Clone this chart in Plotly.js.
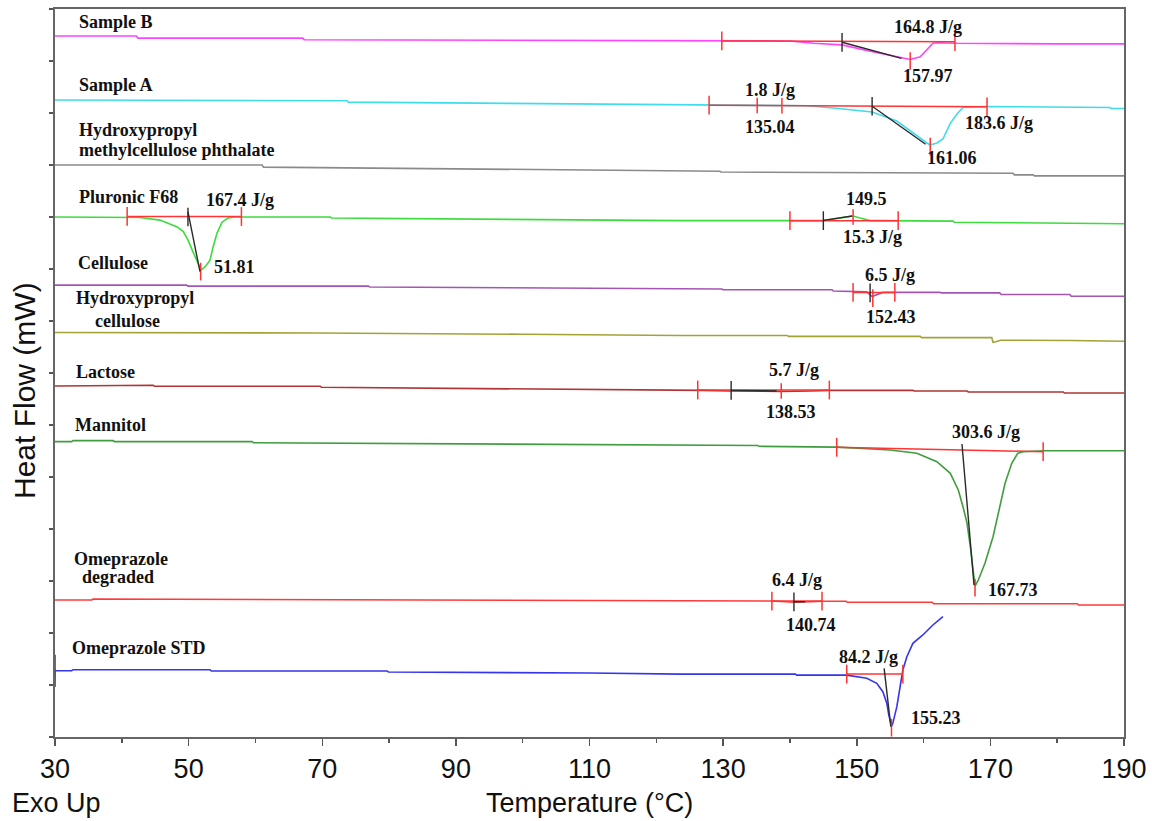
<!DOCTYPE html>
<html>
<head>
<meta charset="utf-8">
<script src="https://cdn.plot.ly/plotly-3.0.1.min.js"></script>
<style>html,body{margin:0;padding:0;background:#fff;}#chart{width:1152px;height:821px;}</style>
</head>
<body>
<div id="chart"></div>
<script>
// ---- DSC curves: temperature (°C) and stacked heat flow (arbitrary offset units) ----
const tSampleB = [30, 42.2, 42.4, 67.1, 67.3, 95, 123, 140, 143.5, 147.8, 152, 156.9, 158.0, 159.5, 160.5, 161.4, 162.2, 165, 180, 190];
const hSampleB = [13.48, 13.48, 13.44, 13.44, 13.41, 13.40, 13.39, 13.385, 13.34, 13.31, 13.19, 13.05, 13.03, 13.08, 13.21, 13.34, 13.35, 13.34, 13.33, 13.33];

const tSampleA = [30, 49, 49.2, 73.7, 73.9, 100, 123.5, 142.6, 146.5, 152.3, 156, 158.4, 160.5, 161, 162, 162.9, 164, 165, 165.9, 169.5, 187.9, 188.1, 190];
const hSampleA = [12.25, 12.25, 12.237, 12.237, 12.21, 12.18, 12.154, 12.14, 12.096, 12.019, 11.846, 11.615, 11.423, 11.385, 11.423, 11.5, 11.8, 11.98, 12.106, 12.125, 12.106, 12.087, 12.087];

const tHPMCP = [30, 61, 61.2, 100, 123.5, 129.5, 129.7, 145.5, 145.7, 173.4, 173.6, 176.4, 176.6, 190];
const hHPMCP = [11.0, 11.0, 10.96, 10.92, 10.885, 10.88, 10.865, 10.86, 10.846, 10.84, 10.81, 10.81, 10.79, 10.79];

const tF68 = [30, 40.8, 42.7, 45.7, 48.3, 49.2, 49.9, 50.65, 51.4, 51.85, 52.45, 53.2, 53.65, 54.25, 55.0, 55.9, 57, 71.2, 71.4, 110, 123.5, 145, 148.5, 149.45, 150.5, 152.0, 153.2, 164.4, 164.6, 183.9, 184.1, 190];
const hF68 = [10.0, 10.0, 9.99, 9.94, 9.81, 9.72, 9.56, 9.33, 9.11, 8.98, 9.04, 9.17, 9.42, 9.69, 9.90, 9.98, 10.0, 10.0, 9.98, 9.95, 9.93, 9.93, 9.99, 10.02, 9.98, 9.93, 9.93, 9.92, 9.90, 9.88, 9.87, 9.87];

const tCellulose = [30, 49.7, 49.9, 76.9, 77.1, 110, 123.5, 129.8, 130, 146.3, 146.5, 151.5, 152.3, 153.0, 153.9, 162.5, 162.7, 171.4, 171.6, 181.9, 182.1, 190];
const hCellulose = [8.69, 8.69, 8.67, 8.67, 8.654, 8.63, 8.615, 8.615, 8.60, 8.60, 8.577, 8.56, 8.47, 8.51, 8.55, 8.55, 8.54, 8.54, 8.51, 8.51, 8.475, 8.475];

const tHPC = [30, 68.9, 69.1, 100, 123.5, 139.6, 139.8, 159.5, 159.7, 170.2, 170.4, 170.8, 171.5, 182, 188.7, 188.9, 190];
const hHPC = [7.78, 7.78, 7.77, 7.745, 7.72, 7.72, 7.705, 7.705, 7.68, 7.68, 7.59, 7.60, 7.63, 7.625, 7.62, 7.61, 7.61];

const tLactose = [30, 34.5, 34.7, 44.7, 44.9, 69.7, 69.9, 100, 123.5, 127, 131, 138.7, 143, 146, 158.4, 158.6, 166.5, 166.7, 180.9, 181.1, 190];
const hLactose = [6.75, 6.75, 6.763, 6.763, 6.744, 6.744, 6.725, 6.70, 6.673, 6.665, 6.655, 6.645, 6.655, 6.665, 6.665, 6.654, 6.654, 6.635, 6.635, 6.615, 6.615];

const tMannitol = [30, 32.5, 32.7, 38.7, 38.9, 59.5, 59.7, 100, 123.5, 135.2, 135.4, 145.3, 147, 150.2, 155.0, 159.0, 162.0, 164.0, 165.2, 165.9, 166.5, 167.0, 167.4, 167.7, 168.2, 169.2, 170.4, 171.4, 172.2, 173.2, 174.1, 174.9, 178, 190];
const hMannitol = [5.68, 5.68, 5.70, 5.70, 5.68, 5.68, 5.66, 5.63, 5.605, 5.605, 5.59, 5.585, 5.575, 5.552, 5.519, 5.456, 5.294, 5.071, 4.75, 4.429, 4.115, 3.66, 3.275, 2.90, 3.019, 3.346, 3.852, 4.429, 4.879, 5.263, 5.456, 5.487, 5.506, 5.506];

const tDegraded = [30, 35.5, 35.7, 100, 123.5, 137.3, 140.6, 143, 144.8, 148.4, 148.6, 161.3, 161.5, 183.0, 183.2, 190];
const hDegraded = [2.635, 2.635, 2.654, 2.64, 2.621, 2.615, 2.59, 2.60, 2.61, 2.61, 2.59, 2.59, 2.563, 2.563, 2.538, 2.538];

const tSTD = [30, 30, 30.02, 32.5, 32.7, 53.2, 53.4, 79.7, 79.9, 110, 123.5, 140.8, 141, 148.5, 149.45, 151.5, 153.0, 153.9, 154.5, 154.8, 155.2, 155.4, 156.0, 156.5, 156.9, 157.5, 158.4, 159.9, 161.4, 162.9];
const hSTD = [1.58, 0.96, 1.275, 1.275, 1.294, 1.294, 1.27, 1.27, 1.25, 1.23, 1.21, 1.21, 1.19, 1.19, 1.173, 1.129, 1.033, 0.871, 0.648, 0.423, 0.21, 0.263, 0.583, 0.967, 1.288, 1.544, 1.802, 1.962, 2.154, 2.315];

// ---- analysis marks ----
// integration baselines (red)
const intT0 = [129.8, 127.9, 40.8, 140.0, 149.45, 126.2, 147.0, 137.3, 148.5];
const intT1 = [164.7, 169.5, 57.9, 156.2, 155.7, 145.9, 177.9, 144.8, 156.9];
const intH0 = [13.385, 12.15, 10.01, 9.93, 8.55, 6.673, 5.571, 2.615, 1.21];
const intH1 = [13.37, 12.12, 10.01, 9.93, 8.55, 6.673, 5.487, 2.615, 1.21];
// peak temperature markers (red)
const peakT = [158.0, 161.0, 51.8, 152.4, 167.7, 155.2];
const peakH = [13.03, 11.385, 8.98, 8.47, 2.90, 0.21];
// other red markers
const markT = [135.1, 138.8, 149.45, 138.7];
const markH = [12.145, 12.14, 10.0, 6.655];
// onset markers (black)
const onsetT = [147.8, 152.3, 49.9, 145.0, 152.0, 131.2, 140.6];
const onsetH = [13.36, 12.13, 10.0, 9.93, 8.54, 6.665, 2.60];
// tangent lines (black)
const tanT0 = [147.8, 152.3, 49.9, 145.0, 131.2, 165.75, 140.6, 154.1];
const tanH0 = [13.36, 12.13, 10.1, 9.935, 6.665, 5.635, 2.60, 1.32];
const tanT1 = [156.7, 160.3, 51.7, 149.3, 138.0, 167.55, 142.3, 155.1];
const tanH1 = [13.05, 11.40, 8.95, 10.02, 6.655, 2.923, 2.60, 0.198];

// ---- texts ----
const curveNames = ["Sample B", "Sample A", "Hydroxypropyl", "methylcellulose phthalate", "Pluronic F68", "Cellulose", "Hydroxypropyl", "cellulose", "Lactose", "Mannitol", "Omeprazole", "degraded", "Omeprazole STD"];
const curveNameT = [33.3, 33.3, 33.3, 33.3, 33.3, 33.14, 32.84, 40.85, 32.84, 32.69, 32.54, 39.4, 32.25];
const curveNameH = [13.75, 12.54, 11.67, 11.29, 10.38, 9.12, 8.44, 8.0, 7.02, 6.0, 3.42, 3.08, 1.71];
const curveNameAnchor = ["left", "left", "left", "left", "left", "left", "left", "center", "left", "left", "left", "center", "left"];

const valueTexts = ["164.8 J/g", "157.97", "1.8 J/g", "135.04", "183.6 J/g", "161.06", "167.4 J/g", "51.81", "149.5", "15.3 J/g", "6.5 J/g", "152.43", "5.7 J/g", "138.53", "303.6 J/g", "167.73", "6.4 J/g", "140.74", "84.2 J/g", "155.23"];
const valueT = [160.7, 160.7, 137.0, 137.0, 171.3, 164.3, 57.7, 56.9, 151.5, 152.4, 155.0, 155.1, 140.6, 140.2, 169.4, 173.4, 141.1, 143.2, 151.8, 161.9];
const valueH = [13.65, 12.71, 12.44, 11.73, 11.81, 11.13, 10.33, 9.04, 10.35, 9.62, 8.88, 8.08, 7.06, 6.25, 5.87, 2.83, 3.02, 2.15, 1.54, 0.365];

const xTicks = [30, 50, 70, 90, 110, 130, 150, 170, 190];

// ---- build ----
const curves = [
  [tSampleB, hSampleB, "#ff44ff"],
  [tSampleA, hSampleA, "#3fdcec"],
  [tHPMCP, hHPMCP, "#8a8a8a"],
  [tF68, hF68, "#3ddc3d"],
  [tCellulose, hCellulose, "#a455b4"],
  [tHPC, hHPC, "#a3a335"],
  [tLactose, hLactose, "#b03434"],
  [tMannitol, hMannitol, "#3f9d3f"],
  [tDegraded, hDegraded, "#ff3a3a"],
  [tSTD, hSTD, "#3535ee"]
];
const traces = curves.map(c => ({
  x: c[0], y: c[1], type: "scatter", mode: "lines",
  line: {color: c[2], width: 1.6}, hoverinfo: "skip"
}));

const rx = [], ry = [];
const tickHalf = 0.18;
for (let i = 0; i < intT0.length; i++) {
  rx.push(intT0[i], intT1[i], null); ry.push(intH0[i], intH1[i], null);
  rx.push(intT0[i], intT0[i], null); ry.push(intH0[i] + tickHalf, intH0[i] - tickHalf, null);
  rx.push(intT1[i], intT1[i], null); ry.push(intH1[i] + tickHalf, intH1[i] - tickHalf, null);
}
for (let i = 0; i < peakT.length; i++) {
  rx.push(peakT[i], peakT[i], null); ry.push(peakH[i] + 0.14, peakH[i] - 0.2, null);
}
for (let i = 0; i < markT.length; i++) {
  rx.push(markT[i], markT[i], null); ry.push(markH[i] + 0.15, markH[i] - 0.15, null);
}
traces.push({x: rx, y: ry, type: "scatter", mode: "lines", line: {color: "#ff3333", width: 1.5}, hoverinfo: "skip", connectgaps: false});

const bx = [], by = [];
for (let i = 0; i < onsetT.length; i++) {
  bx.push(onsetT[i], onsetT[i], null); by.push(onsetH[i] + tickHalf, onsetH[i] - tickHalf, null);
}
for (let i = 0; i < tanT0.length; i++) {
  bx.push(tanT0[i], tanT1[i], null); by.push(tanH0[i], tanH1[i], null);
}
traces.push({x: bx, y: by, type: "scatter", mode: "lines", line: {color: "#2a2a2a", width: 1.4}, hoverinfo: "skip", connectgaps: false});

const serif = {family: "Liberation Serif, Times New Roman, serif", size: 18, color: "#111"};
const annotations = [];
curveNames.forEach((s, i) => annotations.push({
  text: "<b>" + s + "</b>", x: curveNameT[i], y: curveNameH[i], xref: "x", yref: "y",
  xanchor: curveNameAnchor[i], yanchor: "middle", showarrow: false, font: serif
}));
valueTexts.forEach((s, i) => annotations.push({
  text: "<b>" + s + "</b>", x: valueT[i], y: valueH[i], xref: "x", yref: "y",
  xanchor: "center", yanchor: "middle", showarrow: false, font: serif
}));
const sans = {family: "Liberation Sans, Arial, sans-serif", size: 27, color: "#111"};
annotations.push({text: "Temperature (°C)", xref: "paper", yref: "paper", x: 0.5, y: -0.0907, xanchor: "center", yanchor: "middle", showarrow: false, font: sans});
annotations.push({text: "Exo Up", xref: "paper", yref: "paper", x: -0.0421, y: -0.0907, xanchor: "left", yanchor: "middle", showarrow: false, font: sans});
annotations.push({text: "Heat Flow (mW)", xref: "paper", yref: "paper", x: -0.029, y: 0.4766, xanchor: "center", yanchor: "middle", textangle: -90, showarrow: false, font: {family: "Liberation Sans, Arial, sans-serif", size: 30, color: "#111"}});

const layout = {
  width: 1152, height: 821,
  margin: {l: 55, r: 28, t: 9, b: 84, pad: 0},
  paper_bgcolor: "#fff", plot_bgcolor: "#fff",
  showlegend: false, hovermode: false,
  xaxis: {
    range: [30, 190], tickvals: xTicks, ticktext: xTicks.map(String),
    ticks: "outside", ticklen: 7, tickwidth: 1.5, tickcolor: "#555",
    minor: {dtick: 10, tick0: 30, ticks: "outside", ticklen: 4, tickwidth: 1.5, tickcolor: "#555", showgrid: false},
    showgrid: false, zeroline: false,
    showline: true, linecolor: "#666", linewidth: 2, mirror: true,
    tickfont: {family: "Liberation Sans, Arial, sans-serif", size: 27, color: "#111"},
    fixedrange: true
  },
  yaxis: {
    range: [0, 14], dtick: 1, tick0: 0, ticks: "outside", ticklen: 4, tickwidth: 1.5, tickcolor: "#555",
    showticklabels: false, showgrid: false, zeroline: false,
    showline: true, linecolor: "#666", linewidth: 2, mirror: true,
    fixedrange: true
  },
  annotations: annotations
};

Plotly.newPlot("chart", traces, layout, {staticPlot: true, displayModeBar: false});
</script>
</body>
</html>
